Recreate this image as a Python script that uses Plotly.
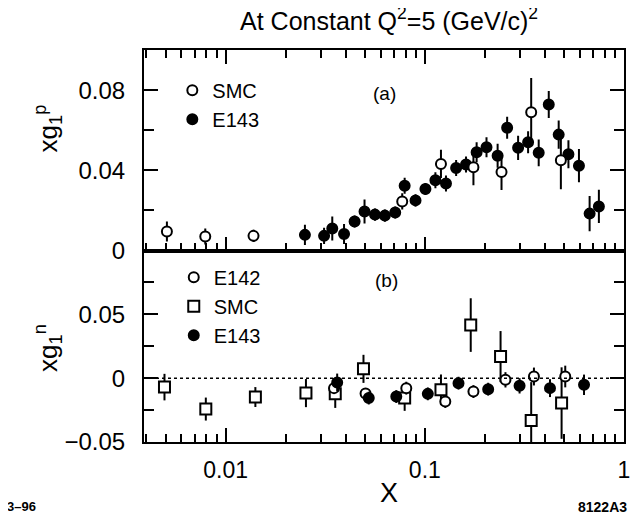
import plotly.graph_objects as go
from plotly.subplots import make_subplots

# panel (a): proton
e143_p_x = [0.025, 0.0312, 0.0343, 0.0393, 0.0444, 0.0498, 0.0562, 0.063, 0.071, 0.0792,
            0.0898, 0.1007, 0.113, 0.1277, 0.1436, 0.161, 0.182, 0.204, 0.232, 0.259,
            0.294, 0.330, 0.373, 0.419, 0.470, 0.526, 0.594, 0.672, 0.748]
e143_p_y = [0.0078, 0.0073, 0.011, 0.0082, 0.0145, 0.0195, 0.0179, 0.0174, 0.019, 0.0323,
            0.025, 0.0307, 0.035, 0.0334, 0.0412, 0.0429, 0.049, 0.0515, 0.0473, 0.0612,
            0.0512, 0.054, 0.0487, 0.0728, 0.0578, 0.048, 0.0423, 0.0184, 0.022]
e143_p_err = [0.005, 0.004, 0.006, 0.005, 0.003, 0.006, 0.003, 0.003, 0.003, 0.004,
              0.003, 0.003, 0.004, 0.004, 0.004, 0.004, 0.005, 0.005, 0.006, 0.0055,
              0.006, 0.0055, 0.0067, 0.0067, 0.007, 0.007, 0.0083, 0.0088, 0.0083]

smc_p_x = [0.00507, 0.0079, 0.0138, 0.077, 0.1205, 0.1754, 0.2427, 0.342, 0.482]
smc_p_y = [0.0095, 0.007, 0.0073, 0.0245, 0.0432, 0.0415, 0.0392, 0.069, 0.045]
smc_p_err = [0.005, 0.004, 0.003, 0.004, 0.007, 0.009, 0.009, 0.017, 0.0145]

# panel (b): neutron
e142_n_x = [0.035, 0.0504, 0.0807, 0.1267, 0.1754, 0.254, 0.353, 0.507]
e142_n_y = [-0.0078, -0.012, -0.0078, -0.0183, -0.0105, -0.0013, 0.0013, 0.0013]
e142_n_err = [0.004, 0.004, 0.005, 0.005, 0.005, 0.006, 0.007, 0.0085]

smc_n_x = [0.00493, 0.00795, 0.0141, 0.0253, 0.0355, 0.0492, 0.0792, 0.1205, 0.17, 0.24, 0.342, 0.486]
smc_n_y = [-0.007, -0.0242, -0.0148, -0.0117, -0.0123, 0.0073, -0.0156, -0.0091, 0.0416, 0.0169, -0.0331, -0.0195]
smc_n_err = [0.0104, 0.009, 0.0078, 0.011, 0.011, 0.011, 0.01, 0.012, 0.021, 0.02, 0.03, 0.028]

e143_n_x = [0.0363, 0.0523, 0.0719, 0.1035, 0.1476, 0.208, 0.299, 0.425, 0.630]
e143_n_y = [-0.0034, -0.0156, -0.0144, -0.0123, -0.0039, -0.0086, -0.006, -0.0078, -0.0052]
e143_n_err = [0.007, 0.005, 0.005, 0.005, 0.005, 0.005, 0.006, 0.007, 0.008]

FONT = "Liberation Sans"

fig = make_subplots(rows=2, cols=1, shared_xaxes=True, vertical_spacing=0,
                    row_heights=[200, 191])


def add(x, y, e, name, symbol, fill, row, legend, rank, size=10):
    fig.add_trace(go.Scatter(
        x=x, y=y, mode="markers", name=name,
        error_y=dict(type="data", array=e, visible=True, color="black", thickness=2, width=0),
        marker=dict(symbol=symbol, size=size, color=fill, line=dict(color="black", width=2)),
        legend=legend, legendrank=rank), row=row, col=1)


add(e143_p_x, e143_p_y, e143_p_err, "E143", "circle", "black", 1, "legend", 2)
add(smc_p_x, smc_p_y, smc_p_err, "SMC", "circle", "white", 1, "legend", 1)

add(smc_n_x, smc_n_y, smc_n_err, "SMC", "square", "white", 2, "legend2", 2, size=11)
add(e142_n_x, e142_n_y, e142_n_err, "E142", "circle", "white", 2, "legend2", 1)
add(e143_n_x, e143_n_y, e143_n_err, "E143", "circle", "black", 2, "legend2", 3)

minor_x = [0.004, 0.005, 0.006, 0.007, 0.008, 0.009,
           0.02, 0.03, 0.04, 0.05, 0.06, 0.07, 0.08, 0.09,
           0.2, 0.3, 0.4, 0.5, 0.6, 0.7, 0.8, 0.9]

fig.update_xaxes(type="log", range=[-2.41, 0.0], showgrid=False, zeroline=False,
                 showline=True, linecolor="black", linewidth=2,
                 ticks="inside", ticklen=14, tickwidth=1.5, tickcolor="black",
                 tickvals=[0.01, 0.1, 1],
                 minor=dict(tickvals=minor_x, ticks="inside", ticklen=8, tickwidth=1.5,
                            tickcolor="black", showgrid=False))
fig.update_xaxes(row=1, col=1, mirror="allticks", showticklabels=False)
fig.update_xaxes(row=2, col=1, mirror=True, ticktext=["0.01", "0.1", "1"],
                 ticklabelstandoff=6,
                 tickfont=dict(size=23, family=FONT, color="black"))

ycommon = dict(showgrid=False, zeroline=False, showline=True, linecolor="black", linewidth=2,
               mirror="allticks", ticks="inside", ticklen=14, tickwidth=1.5, tickcolor="black",
               ticklabelstandoff=12,
               tickfont=dict(size=24, family=FONT, color="black"))
fig.update_yaxes(row=1, col=1, range=[0, 0.1], tickvals=[0, 0.04, 0.08],
                 ticktext=["0", "0.04", "0.08"],
                 minor=dict(dtick=0.02, ticks="inside", ticklen=10, tickwidth=1.5,
                            tickcolor="black", showgrid=False), **ycommon)
fig.update_yaxes(row=2, col=1, range=[-0.05, 0.1], tickvals=[-0.05, 0, 0.05],
                 ticktext=["\u22120.05", "0", "0.05"],
                 minor=dict(dtick=0.025, ticks="inside", ticklen=10, tickwidth=1.5,
                            tickcolor="black", showgrid=False), **ycommon)

fig.add_shape(type="line", xref="x2 domain", yref="y2", x0=0, x1=1, y0=0, y1=0,
              line=dict(color="black", width=1.5, dash="dot"))


def label(text, x, y, size, angle=0):
    fig.add_annotation(text=text, xref="paper", yref="paper", x=x, y=y,
                       xanchor="center", yanchor="middle", textangle=angle, showarrow=False,
                       font=dict(size=size, family=FONT, color="black"))


label("xg<sub>1</sub><sup>p</sup>", -0.2, 0.80, 26, -90)
label("xg<sub>1</sub><sup>n</sup>", -0.2, 0.24, 26, -90)
label("(a)", 0.502, 0.888, 19)
label("(b)", 0.505, 0.413, 19)
label("X", 0.51, -0.13, 27)
label("<b>3\u201396</b>", -0.255, -0.165, 13)
label("<b>8122A3</b>", 0.956, -0.165, 14)

legfont = dict(size=20, family=FONT, color="black")
fig.update_layout(
    width=633, height=507,
    margin=dict(l=136, r=11, t=42, b=73),
    plot_bgcolor="white", paper_bgcolor="white",
    title=dict(text="At Constant Q<sup>2</sup>=5 (GeV/c)<sup>2</sup>",
               x=0.602, xanchor="center", y=0.974, yanchor="middle",
               font=dict(size=25, family=FONT, color="black")),
    legend=dict(x=0.059, y=0.947, xanchor="left", yanchor="top", font=legfont,
                bgcolor="rgba(0,0,0,0)", tracegroupgap=0),
    legend2=dict(x=0.062, y=0.47, xanchor="left", yanchor="top", font=legfont,
                 bgcolor="rgba(0,0,0,0)", tracegroupgap=0),
    showlegend=True,
)

fig.write_html("out.html")
